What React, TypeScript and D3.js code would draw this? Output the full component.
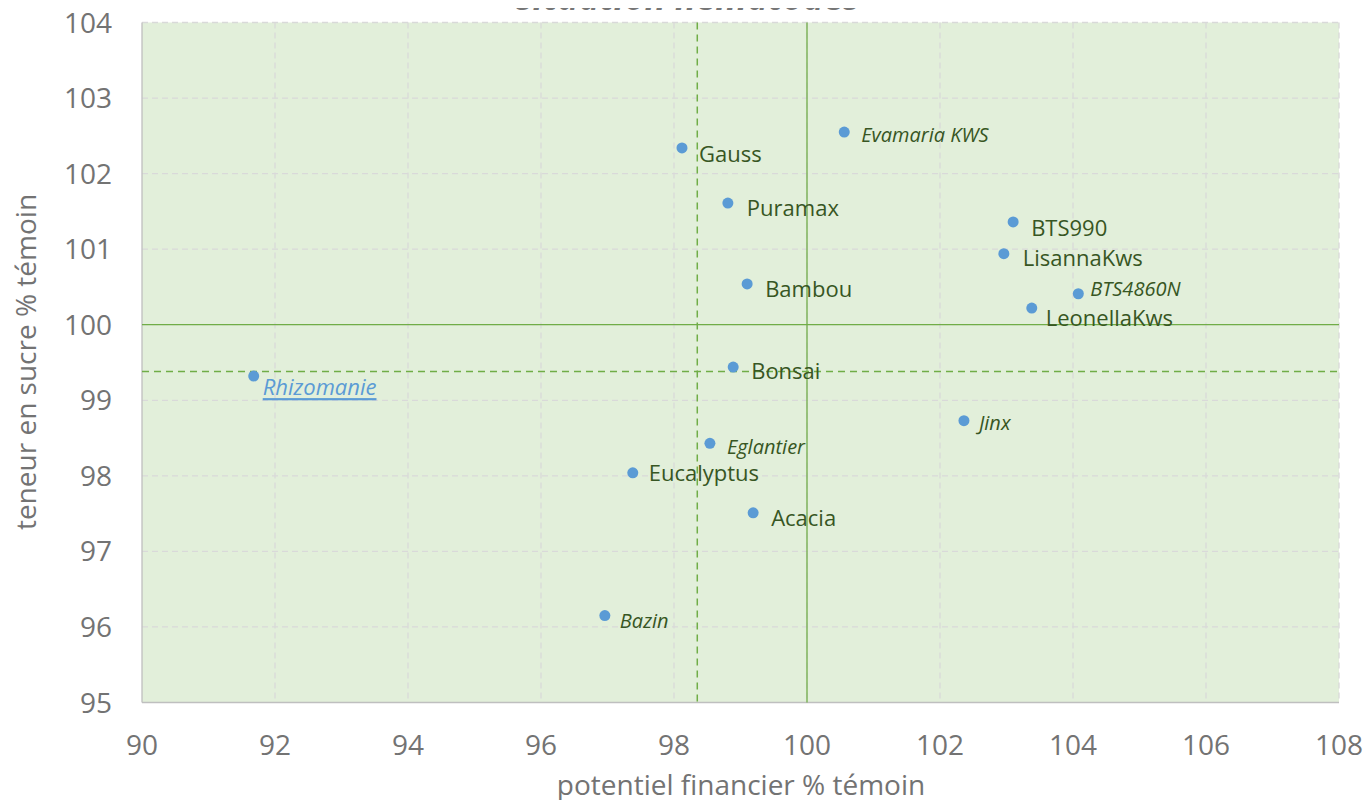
import React, { useEffect, useRef } from 'react';
import * as d3 from 'd3';

const varieties = ['Rhizomanie', 'Gauss', 'Puramax', 'Evamaria KWS', 'BTS990', 'LisannaKws', 'BTS4860N', 'LeonellaKws', 'Bambou', 'Bonsai', 'Jinx', 'Eglantier', 'Eucalyptus', 'Acacia', 'Bazin'];
const financier = [91.68, 98.12, 98.81, 100.56, 103.1, 102.96, 104.08, 103.38, 99.1, 98.89, 102.36, 98.54, 97.38, 99.19, 96.96];
const sucre = [99.32, 102.34, 101.61, 102.55, 101.36, 100.94, 100.41, 100.22, 100.54, 99.44, 98.73, 98.43, 98.04, 97.51, 96.15];
// label kind: 0 = normal, 1 = italic, 2 = reference (underlined)
const labelKind = [2, 0, 0, 1, 0, 0, 1, 0, 0, 0, 1, 1, 0, 0, 1];
// label offsets from the dot, in px
const labelDx = [9, 17, 19, 17, 18, 19, 12, 14, 18, 18, 15, 17, 16, 18, 15];
const labelDy = [10, 5, 4, 2, 5, 3, -5, 9, 4, 3, 2, 3, -1, 4, 5];

const xTicks = [90, 92, 94, 96, 98, 100, 102, 104, 106, 108];
const yTicks = [95, 96, 97, 98, 99, 100, 101, 102, 103, 104];
const meanX = 98.35;
const meanY = 99.38;
const refX = 100;
const refY = 100;

function Chart() {
  const ref = useRef<SVGSVGElement>(null);

  useEffect(() => {
    const svg = d3.select(ref.current);
    svg.selectAll('*').remove();
    const left = 142, right = 1339, top = 22.5, bottom = 702.5;
    const x = d3.scaleLinear().domain([90, 108]).range([left, right]);
    const y = d3.scaleLinear().domain([95, 104]).range([bottom, top]);
    const font = "'Open Sans', sans-serif";

    svg.append('rect').attr('x', left).attr('y', top).attr('width', right - left).attr('height', bottom - top).attr('fill', '#e2efda');

    const grid = svg.append('g').attr('stroke', '#d9d9d9').attr('stroke-width', 1.3).attr('stroke-dasharray', '6,4');
    grid.selectAll('.gx').data(xTicks.slice(1)).enter().append('line')
      .attr('x1', d => x(d)).attr('x2', d => x(d)).attr('y1', top).attr('y2', bottom);
    grid.selectAll('.gy').data(yTicks.slice(1)).enter().append('line')
      .attr('x1', left).attr('x2', right).attr('y1', d => y(d)).attr('y2', d => y(d));

    svg.append('line').attr('x1', left).attr('x2', left).attr('y1', top).attr('y2', bottom).attr('stroke', '#bfbfbf').attr('stroke-width', 1.3);
    svg.append('line').attr('x1', left).attr('x2', right).attr('y1', bottom).attr('y2', bottom).attr('stroke', '#bfbfbf').attr('stroke-width', 1.3);

    const green = '#70ad47';
    svg.append('line').attr('x1', x(refX)).attr('x2', x(refX)).attr('y1', top).attr('y2', bottom).attr('stroke', green).attr('stroke-width', 1.3);
    svg.append('line').attr('x1', left).attr('x2', right).attr('y1', y(refY)).attr('y2', y(refY)).attr('stroke', green).attr('stroke-width', 1.3);
    svg.append('line').attr('x1', x(meanX)).attr('x2', x(meanX)).attr('y1', top).attr('y2', bottom).attr('stroke', green).attr('stroke-width', 1.5).attr('stroke-dasharray', '7,5');
    svg.append('line').attr('x1', left).attr('x2', right).attr('y1', y(meanY)).attr('y2', y(meanY)).attr('stroke', green).attr('stroke-width', 1.5).attr('stroke-dasharray', '7,5');

    svg.selectAll('.xt').data(xTicks).enter().append('text')
      .attr('x', d => x(d)).attr('y', 755).attr('text-anchor', 'middle')
      .attr('font-family', font).attr('font-size', 28).attr('fill', '#737373').text(d => d);
    svg.selectAll('.yt').data(yTicks).enter().append('text')
      .attr('x', 112).attr('y', d => y(d) + 10).attr('text-anchor', 'end')
      .attr('font-family', font).attr('font-size', 28).attr('fill', '#737373').text(d => d);

    svg.append('text').attr('x', 741).attr('y', 795).attr('text-anchor', 'middle')
      .attr('font-family', font).attr('font-size', 28).attr('fill', '#737373').text('potentiel financier % témoin');
    svg.append('text').attr('transform', 'translate(36,362) rotate(-90)').attr('text-anchor', 'middle')
      .attr('font-family', font).attr('font-size', 28).attr('fill', '#737373').text('teneur en sucre % témoin');

    // title sits mostly above the top edge, like the original export
    svg.append('text').attr('x', 688).attr('y', 10).attr('text-anchor', 'middle')
      .attr('font-family', font).attr('font-size', 35).attr('font-weight', 'bold').attr('font-style', 'italic')
      .attr('fill', '#767676').text('situation nématodes');

    svg.selectAll('.pt').data(varieties).enter().append('circle')
      .attr('cx', (d, i) => x(financier[i])).attr('cy', (d, i) => y(sucre[i])).attr('r', 5.5).attr('fill', '#5b9bd5');

    svg.selectAll('.lb').data(varieties).enter().append('text')
      .attr('x', (d, i) => x(financier[i]) + labelDx[i])
      .attr('y', (d, i) => y(sucre[i]) + labelDy[i])
      .attr('dominant-baseline', 'central')
      .attr('font-family', font)
      .attr('font-size', (d, i) => labelKind[i] === 0 ? 22 : labelKind[i] === 2 ? 22 : 20)
      .attr('font-style', (d, i) => labelKind[i] === 0 ? 'normal' : 'italic')
      .attr('text-decoration', (d, i) => labelKind[i] === 2 ? 'underline' : 'none')
      .attr('fill', (d, i) => labelKind[i] === 2 ? '#5b9bd5' : '#375623')
      .text(d => d);
  }, []);

  return <svg ref={ref} width={1371} height={808} style={{ display: 'block' }} />;
}

export default function App() {
  return <div style={{ margin: -8 }}><Chart /></div>;
}
